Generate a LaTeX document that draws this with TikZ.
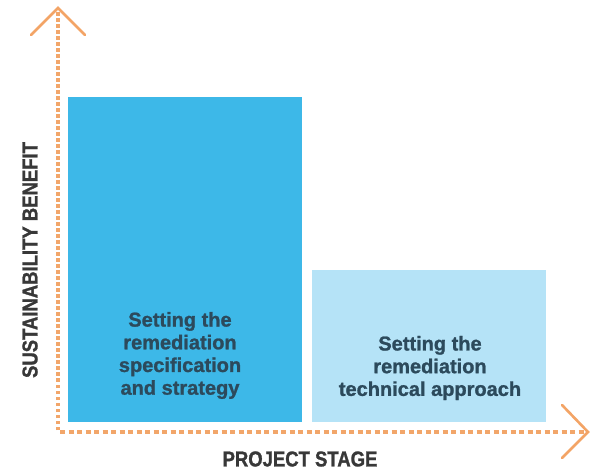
\documentclass[tikz,border=0pt]{standalone}
\usepackage{fontspec}
\setmainfont{Liberation Sans}
\newfontfamily\condbold[FakeStretch=0.86,FakeBold=1.2]{Liberation Sans Bold}
\newfontfamily\boxbold[FakeBold=1.2]{Liberation Sans Bold}
\definecolor{axisor}{HTML}{F2A66A}
\definecolor{arrowor}{HTML}{F3A466}
\definecolor{bigblue}{HTML}{3DB8E8}
\definecolor{smallblue}{HTML}{B5E3F7}
\definecolor{boxtext}{HTML}{2C4A5C}
\definecolor{labtext}{HTML}{383838}
\begin{document}
\begin{tikzpicture}[x=1pt,y=-1pt,
  vaxis/.style={draw=axisor,line width=3.2pt,dash pattern=on 3.5pt off 2.5pt},
  haxis/.style={draw=axisor,line width=3.2pt,dash pattern=on 5pt off 3.5pt},
  chevron/.style={draw=arrowor,line width=2.6pt,line cap=round,line join=miter},
  bartext/.style={text=boxtext,font=\boxbold\fontsize{20}{22.7}\selectfont,align=center},
  axislabel/.style={text=labtext,font=\condbold\fontsize{21.5}{24}\selectfont,inner sep=0pt}]
\useasboundingbox (0,0) rectangle (608,470);
\fill[white] (0,0) rectangle (608,470);
% bars
\fill[bigblue] (68,97) rectangle (302,422);
\fill[smallblue] (312,270) rectangle (546,422);
\node[bartext] (t1) at (180,355.5) {Setting the\\remediation\\specification\\and strategy};
\node[bartext] (t2) at (430,368) {Setting the\\remediation\\technical approach};
% axes
\coordinate (origin) at (58,432);
\coordinate (ytip) at (58,8);
\coordinate (xtip) at (588,432);
\draw[vaxis] (58,430) -- (58,12);
\draw[haxis] (60,432) -- (586,432);
\draw[chevron] (31,35) -- (ytip) -- (85,35);
\draw[chevron] (562,405) -- (xtip) -- (562,458);
% labels
\node[axislabel,rotate=90] (ylab) at (30,260) {SUSTAINABILITY BENEFIT};
\node[axislabel] (xlab) at (300,459) {PROJECT STAGE};
\end{tikzpicture}
\end{document}
